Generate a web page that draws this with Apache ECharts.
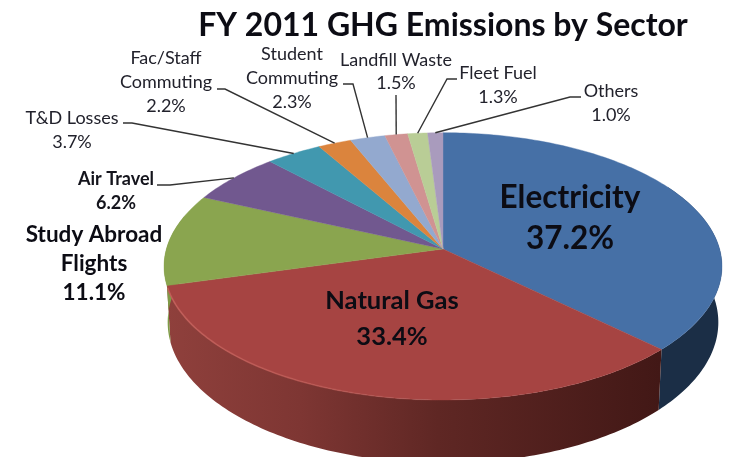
<!DOCTYPE html>
<html>
<head>
<meta charset="utf-8">
<style>html,body{margin:0;padding:0;background:#fff}#c{width:729px;height:457px}</style>
<script src="https://cdn.jsdelivr.net/npm/echarts@6/dist/echarts.min.js"></script>
</head>
<body>
<div id="c"></div>
<script>
// ---- data ----
const titleText = 'FY 2011 GHG Emissions by Sector';
const categories = ['Electricity','Natural Gas','Study Abroad\nFlights','Air Travel','T&D Losses','Fac/Staff\nCommuting','Student\nCommuting','Landfill Waste','Fleet Fuel','Others'];
const shares = [37.2,33.4,11.1,6.2,3.7,2.2,2.3,1.5,1.3,1.0];
// ---- styles & layout ----
const colors = ['#4670a6','#a64442','#8aa54f','#71588f','#4198af','#db843d','#93a9cf','#d09392','#b9cd96','#a99bbd'];
const FONT = 'Lato, Carlito, sans-serif';
const labelLayout = [
  {x:570,y:218,font:'bold 31.5px '+FONT,lh:41,color:'#0c0c14'},
  {x:392,y:319,font:'bold 25.5px '+FONT,lh:36,color:'#0c0c14'},
  {x:94,y:264,font:'bold 22.5px '+FONT,lh:29,color:'#0c0c14'},
  {x:116,y:191,font:'bold 18px '+FONT,lh:24,color:'#14141c',elbow:[[157,185],[170,185]]},
  {x:72,y:130,font:'18px '+FONT,lh:24,color:'#22222c',elbow:[[123,123],[132,123]]},
  {x:166,y:82,font:'18px '+FONT,lh:24,color:'#22222c',elbow:[[217,89],[225,89]]},
  {x:292,y:78,font:'18px '+FONT,lh:24,color:'#22222c',elbow:[[343,84],[353,84]]},
  {x:396,y:72,font:'18px '+FONT,lh:23,color:'#22222c',elbow:[[396,95]]},
  {x:498,y:85,font:'18px '+FONT,lh:24,color:'#22222c',elbow:[[457,79],[447,79]]},
  {x:611,y:103,font:'18px '+FONT,lh:24,color:'#22222c',elbow:[[581,97],[570,97]]}
];
// perspective disc parameters
const CX=443, CY=249, RX=276.6, RY=131.4, K=0.1298, DEPTH=55, BOTTOM_SCALE=0.987;

const total = shares.reduce((a,b)=>a+b,0);
function startAngle(i){ let s=0; for(let j=0;j<i;j++) s+=shares[j]; return s/total*360; }
function rim(deg, level){
  const t=deg*Math.PI/180, u=Math.sin(t), v=-Math.cos(t), d=1-K*v;
  const x=RX*u/d, y=RY*v/d;
  return level? [CX+x*BOTTOM_SCALE, CY+y+DEPTH/d] : [CX+x, CY+y];
}
function arc(a,b,level){
  const pts=[], n=Math.max(2,Math.ceil(Math.abs(b-a)));
  for(let i=0;i<=n;i++) pts.push(rim(a+(b-a)*i/n,level));
  return pts;
}
const redWall={type:'linear',global:true,x:167,y:0,x2:660,y2:0,colorStops:[
  {offset:0,color:'#8f403c'},{offset:0.27,color:'#7e3633'},{offset:0.55,color:'#5f2724'},{offset:1,color:'#421816'}]};
const wallFill=[ '#1b2e46', redWall, '#7f9b47' ];

const chart=echarts.init(document.getElementById('c'),null,{renderer:'canvas'});
chart.setOption({
  animation:false,
  backgroundColor:'#fff',
  title:{text:titleText,left:438,top:5,textAlign:'center',
    textStyle:{fontFamily:FONT,fontWeight:'bold',fontSize:32,color:'#0c0c14'}},
  series:[
    { // side walls
      type:'custom',coordinateSystem:'none',silent:true,z:1,clip:false,
      data:shares,
      renderItem(p,api){
        const i=p.dataIndex;
        const a=Math.max(startAngle(i),60), b=Math.min(startAngle(i)+api.value(0)/total*360,285);
        if(i>2||b<=a) return {type:'group',children:[]};
        return {type:'polygon',shape:{points:arc(a,b,0).concat(arc(b,a,1))},
          style:{fill:wallFill[i],stroke:null}};
      }
    },
    { // top faces
      type:'custom',coordinateSystem:'none',silent:true,z:2,clip:false,
      data:shares,
      renderItem(p,api){
        const i=p.dataIndex, a=startAngle(i), b=a+api.value(0)/total*360;
        const kids=[{type:'polygon',shape:{points:[[CX,CY]].concat(arc(a,b,0))},
          style:{fill:colors[i],stroke:colors[i],lineWidth:0.4}}];
        if(i===1){
          kids.push({type:'polyline',shape:{points:arc(a+25,b-1,0)},
            style:{fill:null,lineWidth:1.6,stroke:{type:'linear',global:true,x:440,y:0,x2:170,y2:0,colorStops:[
              {offset:0,color:'rgba(190,90,85,0)'},{offset:0.5,color:'rgba(190,90,85,0.75)'},{offset:1,color:'rgba(195,95,90,0.9)'}]}}});
        }
        return {type:'group',children:kids};
      }
    },
    { // labels and leader lines
      type:'custom',coordinateSystem:'none',silent:true,z:3,clip:false,
      data:shares,
      renderItem(p,api){
        const i=p.dataIndex, L=labelLayout[i], v=api.value(0);
        const kids=[{type:'text',style:{text:categories[i]+'\n'+v.toFixed(1)+'%',x:L.x,y:L.y,
          align:'center',verticalAlign:'middle',font:L.font,lineHeight:L.lh,fill:L.color}}];
        if(L.elbow){
          const mid=startAngle(i)+v/total*180;
          kids.push({type:'polyline',shape:{points:L.elbow.concat([rim(mid,0)])},
            style:{fill:null,stroke:'#333',lineWidth:1.4}});
        }
        return {type:'group',children:kids};
      }
    }
  ]
});
</script>
</body>
</html>
